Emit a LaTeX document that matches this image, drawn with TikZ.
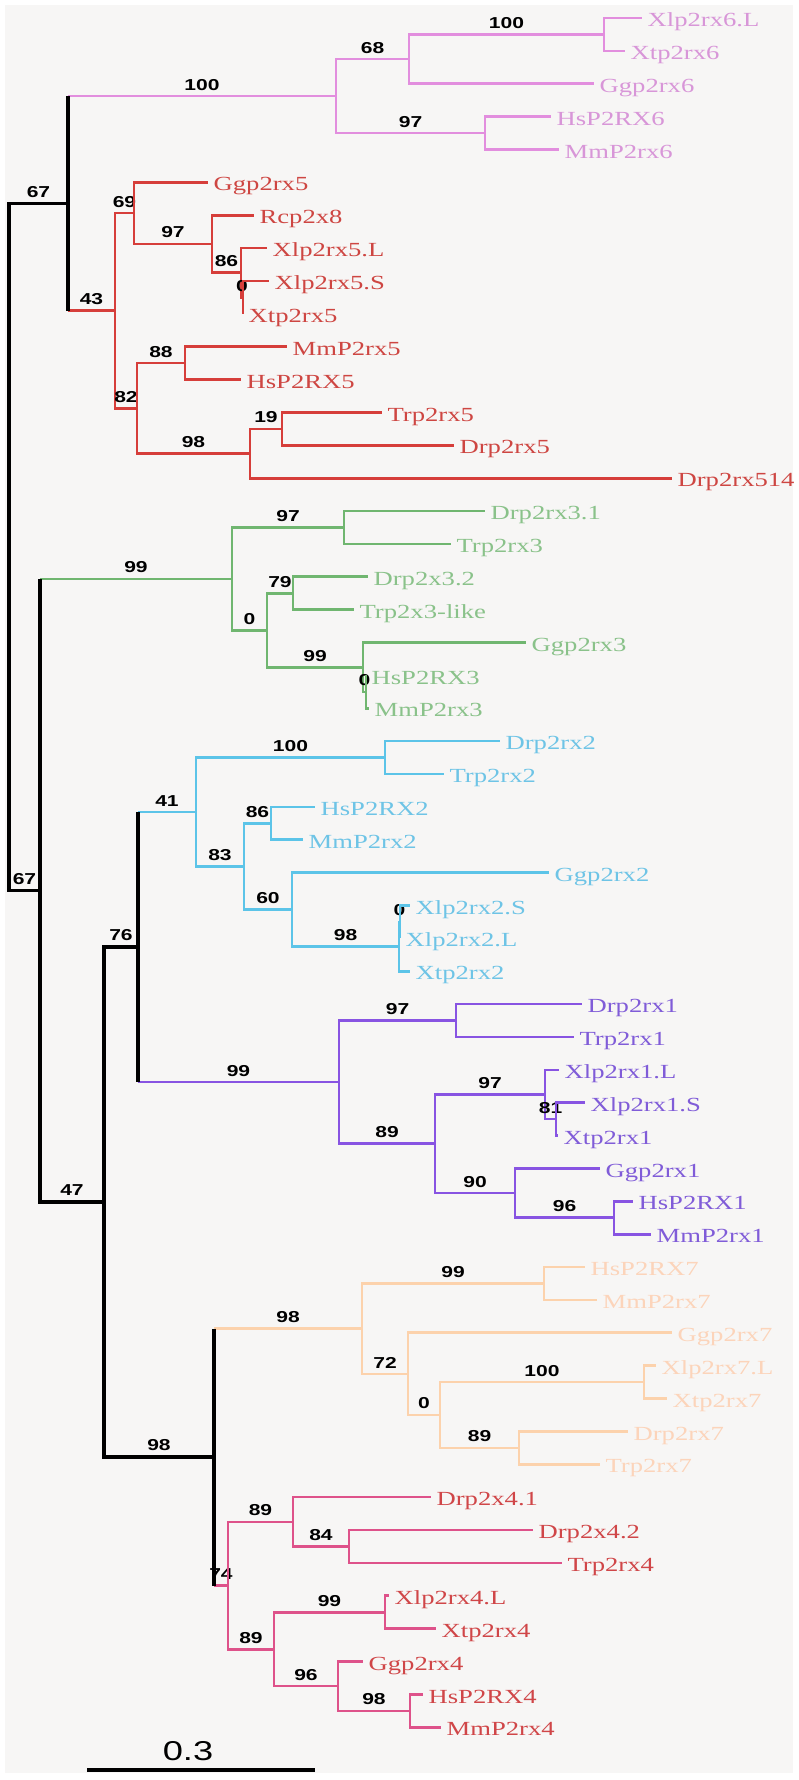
\documentclass[tikz,border=0pt]{standalone}
\usepackage{fontspec}
\newfontfamily\leaffont[FakeStretch=1.33]{Liberation Serif}
\newfontfamily\bsfont[FakeStretch=1.33]{Liberation Sans}
\definecolor{bgc}{RGB}{247,246,245}
\definecolor{l6}{RGB}{226,142,222}\definecolor{t6}{RGB}{216,150,216}
\definecolor{l5}{RGB}{214,62,58}\definecolor{t5}{RGB}{206,70,66}
\definecolor{l3}{RGB}{112,182,112}\definecolor{t3}{RGB}{138,194,138}
\definecolor{l2}{RGB}{92,196,232}\definecolor{t2}{RGB}{110,196,230}
\definecolor{l1}{RGB}{136,84,226}\definecolor{t1}{RGB}{128,92,216}
\definecolor{l7}{RGB}{252,210,172}\definecolor{t7}{RGB}{252,212,186}
\definecolor{l4}{RGB}{222,82,138}\definecolor{t4}{RGB}{208,70,72}

\begin{document}
\begin{tikzpicture}[x=0.2mm,y=-0.2mm,
  declare function={R(\r)=18+32.87*\r;},
  br/.style={draw=#1,line width=1.5pt},
  bk/.style={draw=black,line width=1.85pt},
  lf/.style={font=\leaffont\fontsize{11.4}{12}\selectfont,text=#1,anchor=west,
    inner xsep=3pt,inner ysep=0pt,text height=10.3pt,text depth=0.5pt},
  bs/.style={font=\bsfont\bfseries\fontsize{9}{10}\selectfont,text=black,
    inner sep=0pt,above=2.6pt}]
\useasboundingbox (0,0) rectangle (799,1780);
\fill[white] (0,0) rectangle (799,1780);
\fill[bgc] (5,5) rectangle (793,1773);

% backbone
\coordinate (root) at (9,{R(16.0918)});
\coordinate (nA) at (68,{R(5.6406)});
\coordinate (nB) at (40,{R(26.543)});
\coordinate (nD) at (104,{R(36.0234)});
\coordinate (nC) at (138,{R(28.2656)});
\coordinate (nE) at (214,{R(43.7813)});

% P2X6
\coordinate (n6) at (336,{R(2.375)});
\coordinate (n6b) at (409,{R(1.25)});
\coordinate (n6a) at (604,{R(0.5)});
\coordinate (n6c) at (485,{R(3.5)});
\foreach \nm/\r/\x/\txt in {xlp6L/0/642/Xlp2rx6.L, xtp6/1/625/Xtp2rx6,
  ggp6/2/594/Ggp2rx6, hs6/3/551/HsP2RX6, mm6/4/559/MmP2rx6}
  \node[lf=t6] (\nm) at (\x,{R(\r)}) {\txt};

% P2X5
\coordinate (n5) at (115,{R(8.9063)});
\coordinate (n5d) at (134,{R(5.9375)});
\coordinate (n5c) at (212,{R(6.875)});
\coordinate (n5b) at (241,{R(7.75)});
\coordinate (n5a) at (243,{R(8.5)});
\coordinate (n5f) at (137,{R(11.875)});
\coordinate (n5e) at (185,{R(10.5)});
\coordinate (n5g) at (250,{R(13.25)});
\coordinate (n5h) at (282,{R(12.5)});
\foreach \nm/\r/\x/\txt in {ggp5/5/208/Ggp2rx5, rcp8/6/254/Rcp2x8,
  xlp5L/7/267/Xlp2rx5.L, xlp5S/8/269/Xlp2rx5.S, xtp5/9/243/Xtp2rx5,
  mm5/10/287/MmP2rx5, hs5/11/241/HsP2RX5, tr5/12/382/Trp2rx5,
  dr5/13/454/Drp2rx5, dr514/14/672/Drp2rx514}
  \node[lf=t5] (\nm) at (\x,{R(\r)}) {\txt};

% P2X3
\coordinate (n3) at (232,{R(17.0625)});
\coordinate (n3a) at (344,{R(15.5)});
\coordinate (n3e) at (267,{R(18.625)});
\coordinate (n3b) at (293,{R(17.5)});
\coordinate (n3d) at (363,{R(19.75)});
\coordinate (n3c) at (366,{R(20.5)});
\foreach \nm/\r/\x/\txt in {dr31/15/485/Drp2rx3.1, tr3/16/451/Trp2rx3,
  dr32/17/368/Drp2x3.2, tr3l/18/354/Trp2x3-like, ggp3/19/526/Ggp2rx3,
  hs3/20/366/HsP2RX3, mm3/21/369/MmP2rx3}
  \node[lf=t3] (\nm) at (\x,{R(\r)}) {\txt};

% P2X2
\coordinate (n2) at (196,{R(24.1563)});
\coordinate (n2a) at (385,{R(22.5)});
\coordinate (n2f) at (244,{R(25.8125)});
\coordinate (n2b) at (271,{R(24.5)});
\coordinate (n2e) at (292,{R(27.125)});
\coordinate (n2d) at (399,{R(28.25)});
\coordinate (n2c) at (400,{R(27.5)});
\foreach \nm/\r/\x/\txt in {dr2/22/500/Drp2rx2, tr2/23/444/Trp2rx2,
  hs2/24/315/HsP2RX2, mm2/25/303/MmP2rx2, ggp2/26/549/Ggp2rx2,
  xlp2S/27/410/Xlp2rx2.S, xlp2L/28/400/Xlp2rx2.L, xtp2/29/410/Xtp2rx2}
  \node[lf=t2] (\nm) at (\x,{R(\r)}) {\txt};

% P2X1
\coordinate (n1) at (339,{R(32.375)});
\coordinate (n1a) at (456,{R(30.5)});
\coordinate (n1d) at (435,{R(34.25)});
\coordinate (n1c) at (545,{R(32.75)});
\coordinate (n1b) at (556,{R(33.5)});
\coordinate (n1e) at (515,{R(35.75)});
\coordinate (n1f) at (614,{R(36.5)});
\foreach \nm/\r/\x/\txt in {dr1/30/582/Drp2rx1, tr1/31/574/Trp2rx1,
  xlp1L/32/559/Xlp2rx1.L, xlp1S/33/585/Xlp2rx1.S, xtp1/34/558/Xtp2rx1,
  ggp1/35/600/Ggp2rx1, hs1/36/633/HsP2RX1, mm1/37/651/MmP2rx1}
  \node[lf=t1] (\nm) at (\x,{R(\r)}) {\txt};

% P2X7
\coordinate (n7) at (362,{R(39.875)});
\coordinate (n7a) at (544,{R(38.5)});
\coordinate (n7e) at (408,{R(41.25)});
\coordinate (n7d) at (440,{R(42.5)});
\coordinate (n7b) at (644,{R(41.5)});
\coordinate (n7c) at (519,{R(43.5)});
\foreach \nm/\r/\x/\txt in {hs7/38/585/HsP2RX7, mm7/39/597/MmP2rx7,
  ggp7/40/672/Ggp2rx7, xlp7L/41/656/Xlp2rx7.L, xtp7/42/667/Xtp2rx7,
  dr7/43/628/Drp2rx7, tr7/44/600/Trp2rx7}
  \node[lf=t7] (\nm) at (\x,{R(\r)}) {\txt};

% P2X4
\coordinate (n4) at (228,{R(47.6875)});
\coordinate (n4b) at (293,{R(45.75)});
\coordinate (n4a) at (349,{R(46.5)});
\coordinate (n4f) at (274,{R(49.625)});
\coordinate (n4c) at (385,{R(48.5)});
\coordinate (n4e) at (338,{R(50.75)});
\coordinate (n4d) at (410,{R(51.5)});
\foreach \nm/\r/\x/\txt in {dr41/45/431/Drp2x4.1, dr42/46/533/Drp2x4.2,
  tr4/47/562/Trp2rx4, xlp4L/48/389/Xlp2rx4.L, xtp4/49/436/Xtp2rx4,
  ggp4/50/363/Ggp2rx4, hs4/51/423/HsP2RX4, mm4/52/441/MmP2rx4}
  \node[lf=t4] (\nm) at (\x,{R(\r)}) {\txt};

% clade branches
\draw[br=l6] (nA |- n6) -- node[bs]{100} (n6);
\draw[br=l6] (n6) |- node[bs,pos=0.75]{68} (n6b);
\draw[br=l6] (n6) |- node[bs,pos=0.75]{97} (n6c);
\draw[br=l6] (n6b) |- node[bs,pos=0.75]{100} (n6a);
\draw[br=l6] (n6b) |- (ggp6.west);
\draw[br=l6] (n6a) |- (xlp6L.west);
\draw[br=l6] (n6a) |- (xtp6.west);
\draw[br=l6] (n6c) |- (hs6.west);
\draw[br=l6] (n6c) |- (mm6.west);

\draw[br=l5] (nA |- n5) -- node[bs]{43} (n5);
\draw[br=l5] (n5) |- node[bs,pos=0.75]{69} (n5d);
\draw[br=l5] (n5) |- node[bs,pos=0.75]{82} (n5f);
\draw[br=l5] (n5d) |- (ggp5.west);
\draw[br=l5] (n5d) |- node[bs,pos=0.75]{97} (n5c);
\draw[br=l5] (n5c) |- (rcp8.west);
\draw[br=l5] (n5c) |- node[bs,pos=0.75]{86} (n5b);
\draw[br=l5] (n5b) |- (xlp5L.west);
\draw[br=l5] (n5b) |- node[bs,pos=0.75]{0} (n5a);
\draw[br=l5] (n5a) |- (xlp5S.west);
\draw[br=l5] (n5a) |- (xtp5.west);
\draw[br=l5] (n5f) |- node[bs,pos=0.75]{88} (n5e);
\draw[br=l5] (n5f) |- node[bs,pos=0.75]{98} (n5g);
\draw[br=l5] (n5e) |- (mm5.west);
\draw[br=l5] (n5e) |- (hs5.west);
\draw[br=l5] (n5g) |- node[bs,pos=0.75]{19} (n5h);
\draw[br=l5] (n5g) |- (dr514.west);
\draw[br=l5] (n5h) |- (tr5.west);
\draw[br=l5] (n5h) |- (dr5.west);

\draw[br=l3] (nB |- n3) -- node[bs]{99} (n3);
\draw[br=l3] (n3) |- node[bs,pos=0.75]{97} (n3a);
\draw[br=l3] (n3) |- node[bs,pos=0.75]{0} (n3e);
\draw[br=l3] (n3a) |- (dr31.west);
\draw[br=l3] (n3a) |- (tr3.west);
\draw[br=l3] (n3e) |- node[bs,pos=0.75]{79} (n3b);
\draw[br=l3] (n3e) |- node[bs,pos=0.75]{99} (n3d);
\draw[br=l3] (n3b) |- (dr32.west);
\draw[br=l3] (n3b) |- (tr3l.west);
\draw[br=l3] (n3d) |- (ggp3.west);
\draw[br=l3] (n3d) |- node[bs,pos=0.75]{0} (n3c);
\draw[br=l3] (n3c) |- (hs3.west);
\draw[br=l3] (n3c) |- (mm3.west);

\draw[br=l2] (nC |- n2) -- node[bs]{41} (n2);
\draw[br=l2] (n2) |- node[bs,pos=0.75]{100} (n2a);
\draw[br=l2] (n2) |- node[bs,pos=0.75]{83} (n2f);
\draw[br=l2] (n2a) |- (dr2.west);
\draw[br=l2] (n2a) |- (tr2.west);
\draw[br=l2] (n2f) |- node[bs,pos=0.75]{86} (n2b);
\draw[br=l2] (n2f) |- node[bs,pos=0.75]{60} (n2e);
\draw[br=l2] (n2b) |- (hs2.west);
\draw[br=l2] (n2b) |- (mm2.west);
\draw[br=l2] (n2e) |- (ggp2.west);
\draw[br=l2] (n2e) |- node[bs,pos=0.75]{98} (n2d);
\draw[br=l2] (n2d) |- node[bs,pos=0.75]{0} (n2c);
\draw[br=l2] (n2d) |- (xtp2.west);
\draw[br=l2] (n2c) |- (xlp2S.west);
\draw[br=l2] (n2c) |- (xlp2L.west);

\draw[br=l1] (nC |- n1) -- node[bs]{99} (n1);
\draw[br=l1] (n1) |- node[bs,pos=0.75]{97} (n1a);
\draw[br=l1] (n1) |- node[bs,pos=0.75]{89} (n1d);
\draw[br=l1] (n1a) |- (dr1.west);
\draw[br=l1] (n1a) |- (tr1.west);
\draw[br=l1] (n1d) |- node[bs,pos=0.75]{97} (n1c);
\draw[br=l1] (n1d) |- node[bs,pos=0.75]{90} (n1e);
\draw[br=l1] (n1c) |- (xlp1L.west);
\draw[br=l1] (n1c) |- node[bs,pos=0.75]{81} (n1b);
\draw[br=l1] (n1b) |- (xlp1S.west);
\draw[br=l1] (n1b) |- (xtp1.west);
\draw[br=l1] (n1e) |- (ggp1.west);
\draw[br=l1] (n1e) |- node[bs,pos=0.75]{96} (n1f);
\draw[br=l1] (n1f) |- (hs1.west);
\draw[br=l1] (n1f) |- (mm1.west);

\draw[br=l7] (nE |- n7) -- node[bs]{98} (n7);
\draw[br=l7] (n7) |- node[bs,pos=0.75]{99} (n7a);
\draw[br=l7] (n7) |- node[bs,pos=0.75]{72} (n7e);
\draw[br=l7] (n7a) |- (hs7.west);
\draw[br=l7] (n7a) |- (mm7.west);
\draw[br=l7] (n7e) |- (ggp7.west);
\draw[br=l7] (n7e) |- node[bs,pos=0.75]{0} (n7d);
\draw[br=l7] (n7d) |- node[bs,pos=0.75]{100} (n7b);
\draw[br=l7] (n7d) |- node[bs,pos=0.75]{89} (n7c);
\draw[br=l7] (n7b) |- (xlp7L.west);
\draw[br=l7] (n7b) |- (xtp7.west);
\draw[br=l7] (n7c) |- (dr7.west);
\draw[br=l7] (n7c) |- (tr7.west);

\draw[br=l4] (nE |- n4) -- node[bs]{74} (n4);
\draw[br=l4] (n4) |- node[bs,pos=0.75]{89} (n4b);
\draw[br=l4] (n4) |- node[bs,pos=0.75]{89} (n4f);
\draw[br=l4] (n4b) |- (dr41.west);
\draw[br=l4] (n4b) |- node[bs,pos=0.75]{84} (n4a);
\draw[br=l4] (n4a) |- (dr42.west);
\draw[br=l4] (n4a) |- (tr4.west);
\draw[br=l4] (n4f) |- node[bs,pos=0.75]{99} (n4c);
\draw[br=l4] (n4f) |- node[bs,pos=0.75]{96} (n4e);
\draw[br=l4] (n4c) |- (xlp4L.west);
\draw[br=l4] (n4c) |- (xtp4.west);
\draw[br=l4] (n4e) |- (ggp4.west);
\draw[br=l4] (n4e) |- node[bs,pos=0.75]{98} (n4d);
\draw[br=l4] (n4d) |- (hs4.west);
\draw[br=l4] (n4d) |- (mm4.west);

% backbone on top
\draw[bk] (root) |- node[bs,pos=0.75]{67} (nA);
\draw[bk] (root) |- node[bs,pos=0.75]{67} (nB);
\draw[bk] (nB) |- node[bs,pos=0.75]{47} (nD);
\draw[bk] (nD) |- node[bs,pos=0.75]{76} (nC);
\draw[bk] (nD) |- node[bs,pos=0.75]{98} (nE);
\draw[bk] (nA |- n6) -- (nA |- n5);
\draw[bk] (nB |- n3) -- (nB);
\draw[bk] (nC |- n2) -- (nC |- n1);
\draw[bk] (nE |- n7) -- (nE |- n4);

% scale bar
\coordinate (sbl) at (87,1770);
\coordinate (sbr) at (315,1770);
\draw[line width=2.2pt] (sbl) -- (sbr);
\node[font=\bsfont\fontsize{15.5}{16}\selectfont,anchor=base,inner sep=0pt] (sblab) at (188,1760) {0.3};
\end{tikzpicture}
\end{document}
